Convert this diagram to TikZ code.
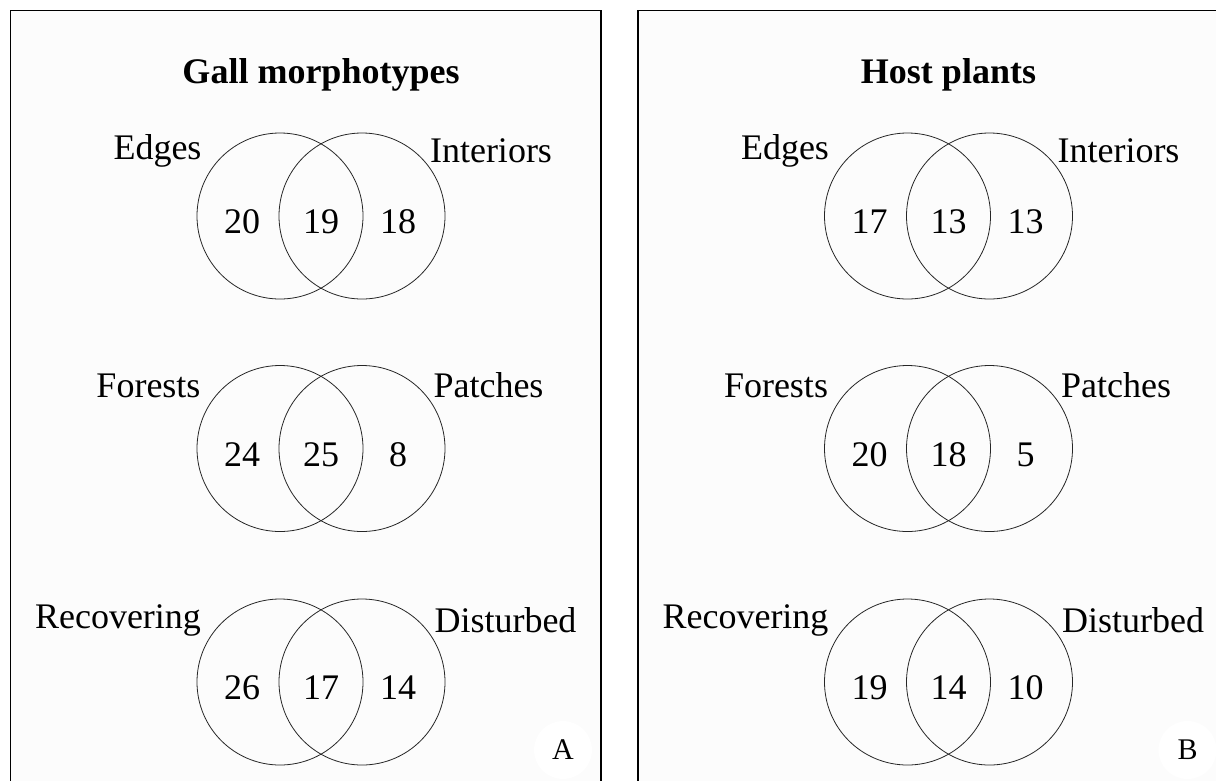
\documentclass[tikz,border=0pt]{standalone}
\usepackage{fontspec}
\setmainfont{Liberation Serif}
\begin{document}
\begin{tikzpicture}[x=1pt,y=-1pt,
  lbl/.style={font=\fontsize{36}{40}\selectfont, anchor=base, inner sep=0pt},
  ttl/.style={font=\bfseries\fontsize{36}{40}\selectfont, anchor=base, inner sep=0pt},
  ring/.style={circle, draw=black!85, line width=0.8pt, minimum size=166pt, inner sep=0pt},
  panel/.style={draw=black, line width=1.6pt, fill=black!1},
  tag/.style={circle, fill=white, minimum size=58pt, inner sep=0pt, font=\fontsize{30}{34}\selectfont}]
\useasboundingbox (0,0) rectangle (1216,780);
\begin{scope}
  \clip (0,0) rectangle (1216,780);
  \draw[panel] (10.5,800) rectangle (601,10.5);
  \draw[panel] (638,800) rectangle (1230,10.5);
\end{scope}
% Panel A
\begin{scope}[name prefix=A-]
  \node[ttl] (title) at (321,83) {Gall morphotypes};
  \node[ring] (c1l) at (280,216) {};
  \node[ring] (c1r) at (362,216) {};
  \node[lbl] (l1l) at (157.5,159) {Edges};
  \node[lbl] (l1r) at (491,162) {Interiors};
  \node[lbl] (n1a) at (242,233) {20};
  \node[lbl] (n1b) at (321,233) {19};
  \node[lbl] (n1c) at (398,233) {18};
  \node[ring] (c2l) at (280,448.5) {};
  \node[ring] (c2r) at (362,448.5) {};
  \node[lbl] (l2l) at (148.5,397) {Forests};
  \node[lbl] (l2r) at (488.5,397) {Patches};
  \node[lbl] (n2a) at (242,466) {24};
  \node[lbl] (n2b) at (321,466) {25};
  \node[lbl] (n2c) at (398,466) {8};
  \node[ring] (c3l) at (280,682) {};
  \node[ring] (c3r) at (362,682) {};
  \node[lbl] (l3l) at (118,628) {Recovering};
  \node[lbl] (l3r) at (505.5,632) {Disturbed};
  \node[lbl] (n3a) at (242,699) {26};
  \node[lbl] (n3b) at (321,699) {17};
  \node[lbl] (n3c) at (398,699) {14};
  \node[tag] (tag) at (563,750) {A};
\end{scope}
% Panel B
\begin{scope}[xshift=627.5pt, name prefix=B-]
  \node[ttl] (title) at (321,83) {Host plants};
  \node[ring] (c1l) at (280,216) {};
  \node[ring] (c1r) at (362,216) {};
  \node[lbl] (l1l) at (157.5,159) {Edges};
  \node[lbl] (l1r) at (491,162) {Interiors};
  \node[lbl] (n1a) at (242,233) {17};
  \node[lbl] (n1b) at (321,233) {13};
  \node[lbl] (n1c) at (398,233) {13};
  \node[ring] (c2l) at (280,448.5) {};
  \node[ring] (c2r) at (362,448.5) {};
  \node[lbl] (l2l) at (148.5,397) {Forests};
  \node[lbl] (l2r) at (488.5,397) {Patches};
  \node[lbl] (n2a) at (242,466) {20};
  \node[lbl] (n2b) at (321,466) {18};
  \node[lbl] (n2c) at (398,466) {5};
  \node[ring] (c3l) at (280,682) {};
  \node[ring] (c3r) at (362,682) {};
  \node[lbl] (l3l) at (118,628) {Recovering};
  \node[lbl] (l3r) at (505.5,632) {Disturbed};
  \node[lbl] (n3a) at (242,699) {19};
  \node[lbl] (n3b) at (321,699) {14};
  \node[lbl] (n3c) at (398,699) {10};
  \node[tag] (tag) at (560,750) {B};
\end{scope}
\end{tikzpicture}
\end{document}
